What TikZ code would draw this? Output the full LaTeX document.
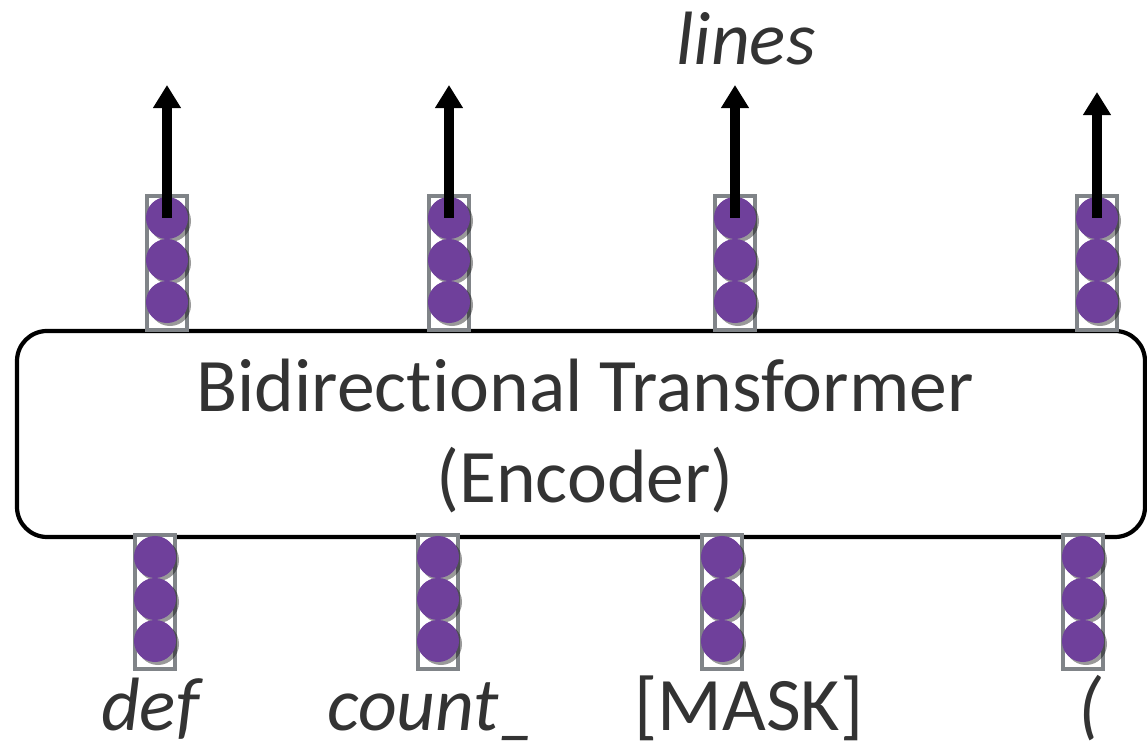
\documentclass[tikz,border=0pt]{standalone}
\usepackage{fontspec}
\setmainfont{Carlito}[Ligatures=NoCommon]
\usetikzlibrary{arrows.meta}
\definecolor{txt}{HTML}{333333}
\definecolor{bead}{HTML}{6F409B}
\definecolor{frame}{HTML}{808488}
\tikzset{
  label text/.style={text=txt, font=\fontsize{21.5}{26}\selectfont, inner sep=0pt, anchor=base},
  holder/.style={draw=frame, line width=1.15pt, fill=white, minimum width=0.40cm, minimum height=1.34cm, inner sep=0pt},
  bead/.style={circle, fill=bead, minimum size=0.42cm, inner sep=0pt},
  beadshadow/.style={circle, fill=black, opacity=0.4, minimum size=0.42cm, inner sep=0pt},
  outarrow/.style={line width=2.6pt, -{Triangle[width=7.6pt,length=6.6pt]}},
  encoder/.style={draw=black, line width=1.2pt, rounded corners=0.3cm, fill=white}
}
% one vector: a grey holder with three stacked beads
\newcommand\vecstack[3]{% name, x, top y
  \node[holder, anchor=north] (#1) at (#2,#3) {};
  \foreach \k/\dy in {1/24,2/66,3/108}{
    \node[beadshadow] at ({#2+3},{#3+\dy+3}) {};
    \node[bead] (#1-\k) at (#2,{#3+\dy}) {};
  }
}
\begin{document}
\begin{tikzpicture}[x=0.01cm, y=-0.01cm]
  \useasboundingbox (0,0) rectangle (1147,749);
  % encoder block
  \draw[encoder] (17,331) rectangle (1145,537);
  \node[label text] (enc1) at (585,412) {Bidirectional Transformer};
  \node[label text] (enc2) at (585,503) {(Encoder)};
  % output vectors
  \vecstack{o1}{167}{194}
  \vecstack{o2}{449}{194}
  \vecstack{o3}{735}{194}
  \vecstack{o4}{1097}{194}
  % input vectors
  \vecstack{i1}{155}{533}
  \vecstack{i2}{438}{533}
  \vecstack{i3}{722}{533}
  \vecstack{i4}{1083}{533}
  % arrow tips
  \coordinate (t1) at (167,85);
  \coordinate (t2) at (449,85);
  \coordinate (t3) at (735,85);
  \coordinate (t4) at (1097,92);
  \foreach \i in {1,2,3,4}{
    \draw[outarrow] (o\i-1.center) -- (t\i);
  }
  % tokens
  \node[label text] (w1) at (150,731) {\itshape def};
  \node[label text] (w2) at (432,731) {\itshape count\_};
  \node[label text] (w3) at (749,731) {[MASK]};
  \node[label text] (w4) at (1090,731) {\itshape (};
  \node[label text] (w5) at (746,65) {\itshape lines};
\end{tikzpicture}
\end{document}
